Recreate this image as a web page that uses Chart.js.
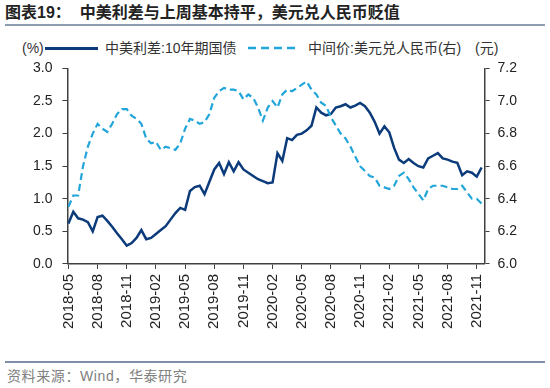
<!DOCTYPE html>
<html lang="zh">
<head>
    <meta charset="UTF-8" />
    <title>中美利差与美元兑人民币</title>
    <script src="https://cdn.jsdelivr.net/npm/chart.js"></script>
    <style>
        body {
            margin: 0;
            width: 550px;
            height: 388px;
            background: #ffffff;
            font-family: 'Liberation Sans', 'Noto Sans CJK SC', sans-serif;
            color: #222;
            position: relative;
            overflow: hidden;
        }
        .title {
            position: absolute;
            left: 5px;
            top: 4px;
            font-size: 16px;
            font-weight: bold;
            line-height: 18px;
            white-space: nowrap;
        }
        .title span { margin-left: 9px; }
        .rule {
            position: absolute;
            left: 5px;
            width: 540px;
            height: 2px;
            background: #8e9cb2;
        }
        .legend {
            position: absolute;
            top: 40px;
            font-size: 14px;
            line-height: 16px;
            color: #333;
            white-space: nowrap;
        }
        .chart-box {
            position: absolute;
            left: 0;
            top: 50px;
            width: 550px;
            height: 286px;
        }
        .source {
            position: absolute;
            left: 7px;
            top: 368px;
            font-size: 14px;
            line-height: 16px;
            color: #808080;
            letter-spacing: 0.6px;
        }
    </style>
</head>
<body>

<div class="title">图表19：<span>中美利差与上周基本持平，美元兑人民币贬值</span></div>
<div class="rule" style="top:24px"></div>

<!-- Legend -->
<div class="legend" style="left:22px">(%)</div>
<div style="position:absolute;left:45px;top:47px;width:53px;height:3px;background:#0b3b7a"></div>
<div class="legend" style="left:105px">中美利差:10年期国债</div>
<svg style="position:absolute;left:248px;top:46px" width="52" height="4">
    <line x1="0" y1="2" x2="52" y2="2" stroke="#22a6d9" stroke-width="2.5" stroke-dasharray="8 5" />
</svg>
<div class="legend" style="left:308px">中间价:美元兑人民币(右)</div>
<div class="legend" style="left:475px">(元)</div>

<div class="chart-box">
    <canvas id="chart"></canvas>
</div>

<div class="rule" style="top:361px;height:1.5px;background:#7f8fa8"></div>
<div class="source">资料来源：Wind，华泰研究</div>

<script>
    // half-monthly readings starting 2018-05
    const spread = [
        0.62, 0.80, 0.70, 0.68, 0.64, 0.50, 0.72, 0.74, 0.66, 0.57,
        0.47, 0.38, 0.28, 0.32, 0.40, 0.52, 0.38, 0.40, 0.46, 0.52,
        0.58, 0.68, 0.78, 0.86, 0.83, 1.12, 1.18, 1.20, 1.07, 1.26,
        1.45, 1.55, 1.38, 1.56, 1.42, 1.56, 1.45, 1.40, 1.35, 1.30,
        1.27, 1.24, 1.25, 1.70, 1.58, 1.93, 1.90, 1.98, 2.00, 2.05,
        2.12, 2.40, 2.32, 2.28, 2.30, 2.40, 2.42, 2.45, 2.40, 2.43,
        2.47, 2.42, 2.32, 2.18, 2.00, 2.11, 2.02, 1.78, 1.60, 1.55,
        1.61, 1.55, 1.50, 1.48, 1.62, 1.66, 1.70, 1.62, 1.60, 1.57,
        1.55, 1.36, 1.42, 1.40, 1.34, 1.48
    ];
    const usdcny = [
        6.35, 6.42, 6.42, 6.60, 6.72, 6.80, 6.86, 6.83, 6.81, 6.86,
        6.92, 6.95, 6.95, 6.91, 6.89, 6.86, 6.77, 6.74, 6.75, 6.70,
        6.72, 6.71, 6.70, 6.74, 6.83, 6.89, 6.88, 6.86, 6.87, 6.92,
        7.02, 7.06, 7.08, 7.07, 7.07, 7.06, 7.01, 7.04, 7.02, 6.96,
        6.88, 6.96, 7.00, 6.96, 7.04, 7.07, 7.06, 7.08, 7.10, 7.12,
        7.07, 7.04, 6.99, 6.97, 6.90, 6.85, 6.80, 6.77, 6.72, 6.66,
        6.60, 6.57, 6.54, 6.53, 6.48, 6.47, 6.46, 6.48, 6.54, 6.56,
        6.52, 6.47, 6.43, 6.39, 6.46, 6.48, 6.48, 6.48, 6.47, 6.46,
        6.46, 6.48, 6.44, 6.40, 6.40, 6.37
    ];
    const xTickLabels = [
        '2018-05', '2018-08', '2018-11', '2019-02', '2019-05', '2019-08', '2019-11', '2020-02',
        '2020-05', '2020-08', '2020-11', '2021-02', '2021-05', '2021-08', '2021-11'
    ];
    const monthsPerPoint = 0.5;
    const monthsPerTick = 3;

    const navy = '#0b3b7a';
    const sky = '#22a6d9';
    const axisColor = '#404040';
    const yFont = { family: "'Liberation Sans', Arial, sans-serif", size: 14 };
    const xFont = { family: "'Liberation Sans', Arial, sans-serif", size: 15 };

    const toPoints = arr => arr.map((v, i) => ({ x: i * monthsPerPoint, y: v }));

    new Chart(document.getElementById('chart'), {
        type: 'line',
        data: {
            datasets: [
                {
                    label: '中间价:美元兑人民币(右)',
                    data: toPoints(usdcny),
                    yAxisID: 'y2',
                    borderColor: sky,
                    borderWidth: 2.2,
                    borderDash: [7, 4],
                    pointRadius: 0,
                    tension: 0
                },
                {
                    label: '中美利差:10年期国债',
                    data: toPoints(spread),
                    yAxisID: 'y',
                    borderColor: navy,
                    borderWidth: 2.5,
                    pointRadius: 0,
                    tension: 0
                }
            ]
        },
        options: {
            responsive: true,
            maintainAspectRatio: false,
            animation: false,
            layout: { padding: { left: 23, right: 25, top: 7, bottom: 2 } },
            plugins: { legend: { display: false }, tooltip: { enabled: false } },
            scales: {
                x: {
                    type: 'linear',
                    min: -0.1,
                    max: 42.8,
                    afterBuildTicks: s => {
                        s.ticks = xTickLabels.map((_, i) => ({ value: i * monthsPerTick }));
                    },
                    ticks: {
                        autoSkip: false,
                        minRotation: 90,
                        maxRotation: 90,
                        padding: 5,
                        color: '#222',
                        font: xFont,
                        callback: (v, i) => xTickLabels[i]
                    },
                    grid: { display: true, drawOnChartArea: false, tickLength: 5, color: axisColor },
                    border: { color: axisColor, width: 1.5 }
                },
                y: {
                    position: 'left',
                    min: 0,
                    max: 3,
                    ticks: {
                        stepSize: 0.5,
                        padding: 10,
                        color: '#222',
                        font: yFont,
                        callback: v => v.toFixed(1)
                    },
                    grid: { display: true, drawOnChartArea: false, tickLength: 5, color: axisColor },
                    border: { color: axisColor, width: 1.5 }
                },
                y2: {
                    position: 'right',
                    min: 6,
                    max: 7.2,
                    ticks: {
                        stepSize: 0.2,
                        padding: 8,
                        color: '#222',
                        font: yFont,
                        callback: v => v.toFixed(1)
                    },
                    grid: { display: true, drawOnChartArea: false, tickLength: 5, color: axisColor },
                    border: { color: axisColor, width: 1.5 }
                }
            }
        }
    });
</script>

</body>
</html>
